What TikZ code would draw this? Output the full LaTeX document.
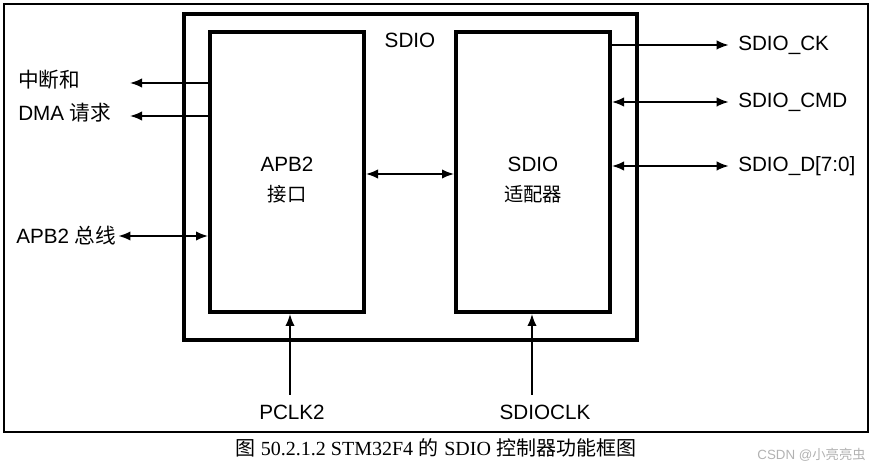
\documentclass[tikz,border=0pt]{standalone}
\usepackage{fontspec}
\setmainfont{Liberation Sans}
\newfontfamily\cjk{Noto Sans CJK SC}
\newfontfamily\ser{Liberation Serif}
\usetikzlibrary{arrows.meta}
\begin{document}
\begin{tikzpicture}[x=0.75pt,y=-0.75pt,
  box/.style={draw,line width=3pt},
  sig/.style={line width=1.2pt,-{Latex[length=9pt,width=7pt]}},
  bsig/.style={line width=1.2pt,{Latex[length=9pt,width=7pt]}-{Latex[length=9pt,width=7pt]}},
  lab/.style={font=\fontsize{15.5}{17}\selectfont,inner sep=0pt}]
\useasboundingbox (0,0) rectangle (872,470);
\draw[line width=1.2pt] (4,4) rectangle (868,432);
\node[box,minimum width=453*0.75pt,minimum height=326*0.75pt] (sdio) at (410.5,177) {};
\node[box,minimum width=154*0.75pt,minimum height=280*0.75pt] (apb) at (287,172) {};
\node[box,minimum width=154*0.75pt,minimum height=280*0.75pt] (ada) at (533,172) {};
\node[lab] (t) at (410,40) {SDIO};
\node[lab,align=center] (at) at (287,180) {APB2\\[6pt]{\cjk\fontsize{14.5}{16}\selectfont 接口}};
\node[lab,align=center] (st) at (533,180) {SDIO\\[6pt]{\cjk\fontsize{14.5}{16}\selectfont 适配器}};
\coordinate (a1) at (130,83); \coordinate (a2) at (130,116);
\draw[sig] (apb.west |- a1) -- (a1);
\draw[sig] (apb.west |- a2) -- (a2);
\node[lab,anchor=west] (l1) at (18,80) {\cjk 中断和};
\node[lab,anchor=west] (l2) at (18,113) {DMA {\cjk 请求}};
\node[lab,anchor=west] (l3) at (16,236) {APB2 {\cjk 总线}};
\draw[bsig] (l3.east) ++(2,0) coordinate (b1) -- (apb.west |- b1);
\draw[bsig] (apb.east |- 0,174) -- (ada.west |- 0,174);
\node[lab,anchor=west] (r1) at (738,45) {SDIO\_CK};
\node[lab,anchor=west] (r2) at (738,102) {SDIO\_CMD};
\node[lab,anchor=west] (r3) at (738,166) {SDIO\_D[7:0]};
\draw[sig] (ada.east |- r1) -- ([xshift=-7pt]r1.west);
\draw[bsig] (ada.east |- r2) -- ([xshift=-7pt]r2.west);
\draw[bsig] (ada.east |- r3) -- ([xshift=-7pt]r3.west);
\node[lab] (p) at (292,412) {PCLK2};
\node[lab] (s) at (545,412) {SDIOCLK};
\coordinate (pb) at (290,395); \coordinate (sb) at (532,395);
\draw[sig] (pb) -- (pb |- apb.south);
\draw[sig] (sb) -- (sb |- ada.south);
\node[inner sep=0pt,font=\fontsize{15}{17}\selectfont] (cap) at (436,448) {{\cjk 图} {\ser 50.2.1.2 STM32F4} {\cjk 的} {\ser SDIO} {\cjk 控制器功能框图}};
\node[inner sep=0pt,anchor=east,text=black!30,font=\fontsize{10}{12}\selectfont] (wm) at (866,455) {CSDN @{\cjk 小亮亮虫}};
\end{tikzpicture}
\end{document}
